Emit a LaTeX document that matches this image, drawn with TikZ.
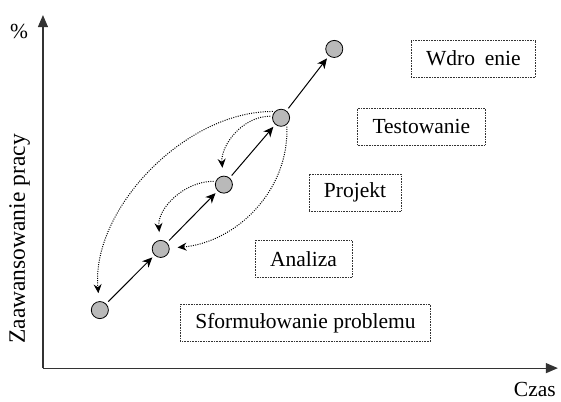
\documentclass[tikz,border=0pt]{standalone}
\usepackage{fontspec}
\setmainfont{Liberation Serif}
\usetikzlibrary{positioning}
\usetikzlibrary{arrows.meta}
\tikzset{
    axis/.style = {line width=1.1pt,draw=black!80,-{Triangle[length=12pt,width=10pt]}},
    phase/.style = {rectangle, line width=0.6pt, dash pattern=on 0.8pt off 0.8pt, draw=black!80, inner xsep=15pt, minimum height=1.3cm},
    mynode/.style = {circle, thick, draw=black, fill=gray!55, minimum size=0.6cm, inner sep=0pt},
    edgen/.style = {-{Stealth[length=10pt,width=9pt,inset=3pt]},line width=1pt,shorten <=3pt,shorten >=3pt},
    edged/.style = {-{Stealth[length=9pt,width=8pt,inset=3pt]},line width=1pt,dash pattern=on 1pt off 1.3pt,shorten <=2pt,shorten >=8pt}, % back
    every picture/.style={font issue=\fontsize{21.5}{25}},
    font issue/.style={execute at begin picture={#1\selectfont}
  }
}

\begin{document}
\begin{tikzpicture}
\useasboundingbox (0,0) rectangle (19.72,14.13);
% axes
\coordinate (o) at (1.51,1.19);
\coordinate (ytop) at (1.51,13.60);
\coordinate (xend) at (19.61,1.19);
\draw[axis] (o) -- (ytop);
\draw[axis] (o) -- (xend);
\node at (0.67,13.04) (pct) {\%};
\node[rotate=90,font=\fontsize{23.5}{27}\selectfont] at (0.69,5.73) (ylab) {Zaawansowanie pracy};
\node at (18.80,0.45) (xlab) {Czas};
% phases
\node[phase] at (16.64,12.07) (wdr) {Wdro\hspace{0.45em}enie};
\node[phase] at (14.81,9.68) (test) {Testowanie};
\node[phase] at (12.48,7.36) (proj) {Projekt};
\node[phase] at (10.67,5.03) (anal) {Analiza};
\node[phase] at (10.74,2.78) (sform) {Sformułowanie problemu};
% milestones
\node[mynode] at (3.51,3.23) (a) {};
\node[mynode] at (5.65,5.38) (b) {};
\node[mynode] at (7.87,7.64) (c) {};
\node[mynode] at (9.88,9.99) (d) {};
\node[mynode] at (11.75,12.41) (e) {};
%
\draw[edgen] (a) -- (b);
\draw[edgen] (b) -- (c);
\draw[edgen] (c) -- (d);
\draw[edgen] (d) -- (e);
\draw[edged] (d.135) to[out=180,in=95,looseness=0.9] (a);
\draw[edged] (d.170) to[out=180,in=95] (c);
\draw[edged] (c.158) to[out=180,in=95] (b);
\draw[edged] (d.-50) to[out=-88,in=5] (b);
\end{tikzpicture}
\end{document}
